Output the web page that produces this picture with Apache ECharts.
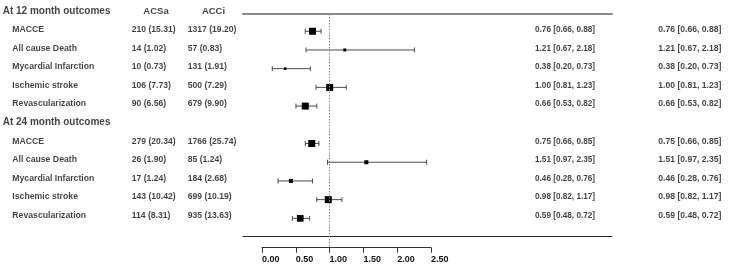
<!DOCTYPE html>
<html><head><meta charset="utf-8">
<script src="https://cdn.jsdelivr.net/npm/echarts@6/dist/echarts.min.js"></script>
<style>html,body{margin:0;padding:0;background:#fff}#c{width:730px;height:267px}</style>
</head><body><div id="c"></div>
<script>
// ---------- data ----------
const sections = ['At 12 month outcomes', 'At 24 month outcomes'];
const outcomes = ['MACCE', 'All cause Death', 'Mycardial Infarction', 'Ischemic stroke', 'Revascularization'];
const groupHeaders = ['ACSa', 'ACCi'];
const acsa12 = ['210 (15.31)', '14 (1.02)', '10 (0.73)', '106 (7.73)', '90 (6.56)'];
const acci12 = ['1317 (19.20)', '57 (0.83)', '131 (1.91)', '500 (7.29)', '679 (9.90)'];
const acsa24 = ['279 (20.34)', '26 (1.90)', '17 (1.24)', '143 (10.42)', '114 (8.31)'];
const acci24 = ['1766 (25.74)', '85 (1.24)', '184 (2.68)', '699 (10.19)', '935 (13.63)'];
const hr12 = [0.76, 1.21, 0.38, 1.00, 0.66];
const lo12 = [0.66, 0.67, 0.20, 0.81, 0.53];
const hi12 = [0.88, 2.18, 0.73, 1.23, 0.82];
const hr24 = [0.75, 1.51, 0.46, 0.98, 0.59];
const lo24 = [0.66, 0.97, 0.28, 0.82, 0.48];
const hi24 = [0.85, 2.35, 0.76, 1.17, 0.72];
const xTickLabels = ['0.00', '0.50', '1.00', '1.50', '2.00', '2.50'];

// ---------- style ----------
const boxSize12 = [7, 3, 2.5, 7, 7];
const boxSize24 = [7, 4, 4, 7, 6.7];
const FONT = "'Liberation Sans', Arial, sans-serif";
const TXT = '#111';

// rows: 0 = section header 12m, 1..5 outcomes; 6 = section header 24m, 7..11 outcomes
const rowOf = (s, j) => s * 6 + 1 + j;
const fmt = (a, b, c) => a.toFixed(2) + ' [' + b.toFixed(2) + ', ' + c.toFixed(2) + ']';

const forestData = [];
[[hr12, lo12, hi12, boxSize12], [hr24, lo24, hi24, boxSize24]].forEach((set, s) => {
  set[0].forEach((v, j) => forestData.push([v, set[1][j], set[2][j], rowOf(s, j), set[3][j]]));
});

const textCols = [
  { left: 2.7, size: 10, align: 'left', rows: sections.map((t, s) => [s * 6, t]) },
  { left: 12.3, size: 8.7, align: 'left', rows: [0, 1].flatMap(s => outcomes.map((t, j) => [rowOf(s, j), t])) },
  { left: 131.7, size: 8.6, align: 'left', rows: acsa12.map((t, j) => [rowOf(0, j), t]).concat(acsa24.map((t, j) => [rowOf(1, j), t])) },
  { left: 187.7, size: 8.6, align: 'left', rows: acci12.map((t, j) => [rowOf(0, j), t]).concat(acci24.map((t, j) => [rowOf(1, j), t])) },
  { left: 156, size: 9.5, align: 'center', rows: [[0, groupHeaders[0]]] },
  { left: 213.5, size: 9.5, align: 'center', rows: [[0, groupHeaders[1]]] },
  { left: 535, size: 8.2, align: 'left', rows: hr12.map((v, j) => [rowOf(0, j), fmt(v, lo12[j], hi12[j])]).concat(hr24.map((v, j) => [rowOf(1, j), fmt(v, lo24[j], hi24[j])])) },
  { left: 658.3, size: 8.6, align: 'left', rows: hr12.map((v, j) => [rowOf(0, j), fmt(v, lo12[j], hi12[j])]).concat(hr24.map((v, j) => [rowOf(1, j), fmt(v, lo24[j], hi24[j])])) }
];

const grid = [
  { left: 257.9, right: 292.6, top: 14, bottom: 19.3 },   // forest data
  { left: 262, right: 299, top: 14, bottom: 19.3 },       // tick axis
  { left: 243, right: 118, top: 14, bottom: 30.3 }        // horizontal rules
];
const xAxis = [
  { gridIndex: 0, type: 'value', min: 0, max: 2.5, show: false },
  { gridIndex: 1, type: 'value', min: 0, max: 2.5, interval: 0.5, position: 'bottom',
    axisLine: { show: true, lineStyle: { color: '#333', width: 1 } },
    axisTick: { show: true, length: 5, lineStyle: { color: '#333', width: 1 } },
    splitLine: { show: false },
    axisLabel: { show: true, margin: 7.5, align: 'left', fontSize: 9, fontWeight: 'bold', color: TXT, fontFamily: FONT,
      showMinLabel: true, showMaxLabel: true,
      formatter: v => xTickLabels[Math.round(v / 0.5)] } },
  { gridIndex: 2, type: 'value', min: 0, max: 1, position: 'bottom',
    axisLine: { show: true, lineStyle: { color: '#222', width: 1 } },
    axisTick: { show: false }, axisLabel: { show: false }, splitLine: { show: false } },
  { gridIndex: 2, type: 'value', min: 0, max: 1, position: 'top',
    axisLine: { show: true, lineStyle: { color: '#8a8a8a', width: 2 } },
    axisTick: { show: false }, axisLabel: { show: false }, splitLine: { show: false } }
];
const yAxis = [
  { gridIndex: 0, type: 'value', inverse: true, min: 0.078, max: 12.568, show: false },
  { gridIndex: 1, type: 'value', min: 0, max: 1, show: false },
  { gridIndex: 2, type: 'value', min: 0, max: 1, show: false }
];

const series = [
  {
    type: 'custom', xAxisIndex: 0, yAxisIndex: 0, clip: false,
    encode: { x: [0, 1, 2], y: 3 },
    data: forestData,
    renderItem: function (params, api) {
      const est = api.value(0), lo = api.value(1), hi = api.value(2), row = api.value(3), sz = api.value(4);
      const pL = api.coord([lo, row]), pH = api.coord([hi, row]), pE = api.coord([est, row]);
      const cap = 2.5, ls = { stroke: '#4a4a4a', lineWidth: 1 };
      return { type: 'group', children: [
        { type: 'line', shape: { x1: pL[0], y1: pL[1], x2: pH[0], y2: pH[1] }, style: ls },
        { type: 'line', shape: { x1: pL[0], y1: pL[1] - cap, x2: pL[0], y2: pL[1] + cap }, style: ls },
        { type: 'line', shape: { x1: pH[0], y1: pH[1] - cap, x2: pH[0], y2: pH[1] + cap }, style: ls },
        { type: 'rect', shape: { x: pE[0] - sz / 2, y: pE[1] - sz / 2, width: sz, height: sz }, style: { fill: '#000' } }
      ] };
    },
    markLine: {
      silent: true, symbol: 'none', label: { show: false },
      lineStyle: { type: [1.5, 1.5], color: '#888', width: 1 },
      data: [{ xAxis: 1 }]
    },
    z: 3
  },
  { type: 'line', xAxisIndex: 1, yAxisIndex: 1, data: [] },
  { type: 'line', xAxisIndex: 2, yAxisIndex: 2, data: [] }
];

textCols.forEach(col => {
  const gi = grid.length;
  grid.push({ left: col.left, width: 10, top: 14, bottom: 19.3 });
  xAxis.push({ gridIndex: gi, type: 'value', min: 0, max: 1, show: false });
  yAxis.push({ gridIndex: gi, type: 'value', inverse: true, min: 0.1586, max: 12.723, show: false });
  series.push({
    type: 'scatter', xAxisIndex: xAxis.length - 1, yAxisIndex: yAxis.length - 1,
    symbolSize: 0, silent: true, clip: false,
    data: col.rows.map(r => ({ value: [0, r[0]], name: r[1] })),
    label: {
      show: true,
      position: col.align === 'center' ? 'inside' : 'right',
      distance: 0, align: col.align, verticalAlign: 'middle',
      fontSize: col.size, fontWeight: 'bold', color: TXT, fontFamily: FONT,
      formatter: p => p.name
    }
  });
});

const chart = echarts.init(document.getElementById('c'), null, { renderer: 'canvas' });
chart.setOption({ animation: false, backgroundColor: '#fff', grid, xAxis, yAxis, series });
</script>
</body></html>
